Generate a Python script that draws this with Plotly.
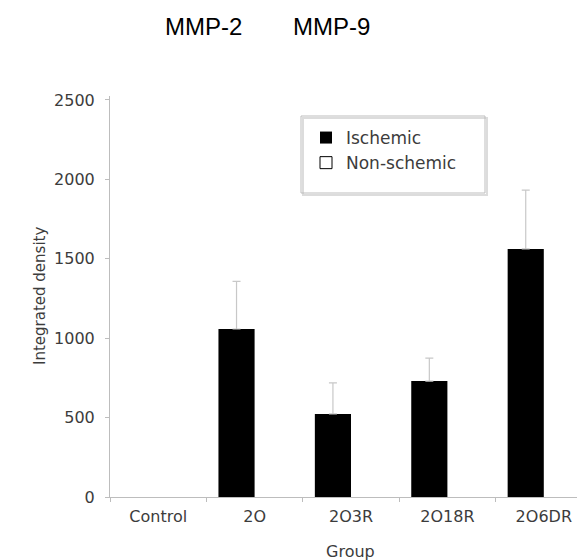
import plotly.graph_objects as go

groups = ["Control", "2O", "2O3R", "2O18R", "2O6DR"]
ischemic = [None, 1058, 523, 730, 1562]
ischemic_err = [None, 300, 195, 145, 370]
non_ischemic = [None, None, None, None, None]
y_ticks = [0, 500, 1000, 1500, 2000, 2500]
headers = ["MMP-2", "MMP-9"]

FONT = "DejaVu Sans"
TXT = "#3c3c3c"
AX = "#bdbdbd"

fig = go.Figure()
fig.add_trace(go.Bar(
    x=groups, y=ischemic, name="Ischemic", legendgroup="a",
    marker=dict(color="black", line=dict(color="black", width=0)),
    error_y=dict(type="data", array=ischemic_err, arrayminus=[0]*len(groups),
                 symmetric=False, color="#c8c8c8", thickness=1.2, width=4),
))
fig.add_trace(go.Bar(
    x=groups, y=non_ischemic, name="Non-schemic", legendgroup="b",
    marker=dict(color="white", line=dict(color="black", width=1)),
))

L, R, T, B = 102, 1, 88, 71
W, H = 585, 560
pw, ph = W - L - R, H - T - B

def px(xp):
    return (xp - L) / pw

def py(yp):
    return (H - B - yp) / ph

fig.update_layout(
    width=W, height=H, autosize=False,
    margin=dict(l=L, r=R, t=T, b=B),
    paper_bgcolor="white", plot_bgcolor="white",
    barmode="group", bargap=0.25, bargroupgap=0,
    font=dict(family=FONT, size=16, color=TXT),
    showlegend=True,
    legend=dict(x=px(298), y=py(112), xanchor="left", yanchor="top",
                bgcolor="rgba(0,0,0,0)", borderwidth=0,
                font=dict(family=FONT, size=17, color=TXT),
                tracegroupgap=14, traceorder="normal"),
    xaxis=dict(range=[-0.5, 4.5], showline=True, linecolor=AX, linewidth=1,
               ticks="outside", tickson="boundaries", ticklen=4, tickcolor=AX,
               showgrid=False, zeroline=False, ticklabelstandoff=5,
               tickfont=dict(family=FONT, size=16, color=TXT)),
    yaxis=dict(range=[0, 2525], tickvals=y_ticks, showline=True, linecolor=AX,
               linewidth=1, ticks="outside", ticklen=4, tickcolor=AX,
               showgrid=False, zeroline=False, ticklabelstandoff=7,
               tickfont=dict(family=FONT, size=16, color=TXT)),
)

fig.add_shape(type="rect", xref="paper", yref="paper",
              x0=px(295), x1=px(479), y0=py(187), y1=py(110),
              line=dict(color="#dcdcdc", width=2), layer="below")
fig.add_shape(type="rect", xref="paper", yref="paper",
              x0=px(293), x1=px(477), y0=py(185), y1=py(108),
              line=dict(color="#bdbdbd", width=1), layer="below")

fig.add_annotation(text=headers[0], xref="paper", yref="paper", x=px(195), y=py(19),
                   xanchor="center", yanchor="middle",
                   showarrow=False, font=dict(family="Liberation Sans", size=24, color="black"))
fig.add_annotation(text=headers[1], xref="paper", yref="paper", x=px(323), y=py(19),
                   xanchor="center", yanchor="middle",
                   showarrow=False, font=dict(family="Liberation Sans", size=24, color="black"))
fig.add_annotation(text="Integrated density", xref="paper", yref="paper", x=px(32), y=py(288),
                   xanchor="center", yanchor="middle",
                   textangle=-90, showarrow=False, font=dict(family=FONT, size=15, color=TXT))
fig.add_annotation(text="Group", xref="paper", yref="paper", x=px(342), y=py(543),
                   xanchor="center", yanchor="middle",
                   showarrow=False, font=dict(family=FONT, size=16, color=TXT))

fig.write_html("out.html")
